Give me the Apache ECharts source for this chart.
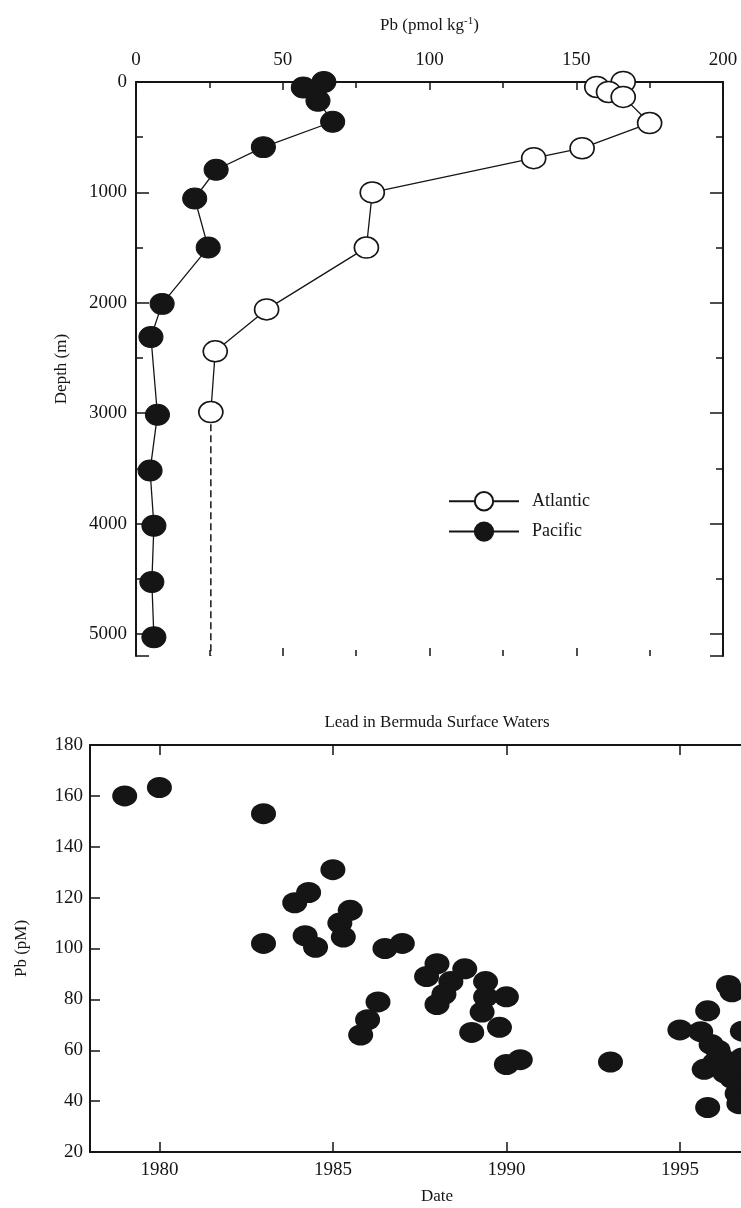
<!DOCTYPE html>
<html>
<head>
<meta charset="utf-8">
<script src="https://cdn.jsdelivr.net/npm/echarts@6/dist/echarts.min.js"></script>
<style>
  html, body { margin: 0; padding: 0; background: #fff; overflow: hidden; }
  #chart { width: 800px; height: 1208px; }
</style>
</head>
<body>
<div id="chart"></div>
<script>
// depth profiles, Pb in pmol/kg against depth in m
const atlanticPb    = [166, 157, 161, 166, 175, 152, 135.5, 80.5, 78.5, 44.5, 27, 25.5];
const atlanticDepth = [0, 45, 90, 135, 372, 600, 690, 1000, 1500, 2060, 2440, 2990];
// dashed extension below the last Atlantic sample
const atlanticDeepPb    = [25.5, 25.5];
const atlanticDeepDepth = [3000, 5200];
const pacificPb    = [64, 57, 62, 67, 43.4, 27.3, 20, 24.6, 8.9, 5.1, 7.3, 4.8, 6.1, 5.4, 6.1];
const pacificDepth = [0, 50, 170, 360, 590, 795, 1055, 1500, 2010, 2310, 3015, 3520, 4020, 4530, 5030];

// Bermuda surface water lead, pM
const bermudaYear = [1979.0, 1980.0, 1983.0, 1985.0, 1983.9, 1984.3, 1983.0, 1984.2, 1984.5,
  1985.5, 1985.2, 1985.3, 1986.5, 1987.0, 1986.3, 1986.0, 1985.8, 1988.0, 1987.7, 1988.4,
  1988.2, 1988.0, 1988.8, 1989.4, 1989.4, 1990.0, 1989.3, 1989.0, 1989.8, 1990.0, 1990.4,
  1993.0, 1995.0, 1995.8, 1996.4, 1996.5, 1995.6, 1995.9, 1996.8, 1995.7, 1996.2, 1996.5,
  1996.5, 1996.65, 1996.7, 1995.8, 1996.0, 1996.3, 1996.9, 1996.9, 1997.0, 1996.8, 1996.1];
const bermudaPb = [160, 163.3, 153, 131, 118, 122, 102, 105, 100.5,
  115, 110, 104.5, 100, 102, 79, 72, 66, 94, 89, 87,
  82, 78, 92, 87, 81, 81, 75, 67, 69, 54.4, 56.3,
  55.4, 68, 75.5, 85.5, 83, 67.3, 62.3, 67.5, 52.5, 57, 54.5,
  49, 43, 39, 37.5, 55, 51, 52, 46, 41, 57, 60];

const dateTicks = [1980, 1985, 1990, 1995];

const ink = '#151515';
const serif = 'Liberation Serif';

function pairs(xs, ys) {
  return xs.map((x, i) => [x, ys[i]]);
}
const plain = (v) => String(v);

// onZero off, otherwise the second axis of a grid jumps to the other axis' zero
const frameLine = { onZero: false, lineStyle: { color: ink, width: 2 } };
const noLine = { show: false, onZero: false };
const tickIn = (len) => ({ inside: true, length: len, lineStyle: { color: ink, width: 1.5 } });
const minorIn = (len) => ({ show: true, splitNumber: 2, length: len, lineStyle: { color: ink, width: 1.5 } });

const chart = echarts.init(document.getElementById('chart'));
chart.setOption({
  animation: false,
  backgroundColor: '#fff',
  textStyle: { fontFamily: serif, color: ink },
  grid: [
    { left: 136, top: 82, width: 587, height: 574 },
    { left: 90, top: 745, width: 694, height: 407 }
  ],
  legend: {
    data: ['Atlantic', 'Pacific'],
    orient: 'vertical',
    left: 443,
    top: 486,
    itemWidth: 70,
    itemHeight: 23,
    itemGap: 10,
    textStyle: { fontFamily: serif, fontSize: 18, color: ink, padding: [0, 0, 0, 8] }
  },
  xAxis: [
    {
      gridIndex: 0, type: 'value', position: 'top',
      min: 0, max: 200, interval: 50,
      axisLine: frameLine,
      axisTick: tickIn(8),
      minorTick: minorIn(6),
      axisLabel: { fontSize: 19, color: ink, margin: 12, formatter: plain },
      splitLine: { show: false },
      name: 'Pb (pmol kg{sup|-1})',
      nameLocation: 'middle',
      nameGap: 46,
      nameTextStyle: {
        fontSize: 17, color: ink,
        rich: { sup: { fontSize: 11, padding: [0, 0, 9, 0] } }
      }
    },
    {
      gridIndex: 0, type: 'value', position: 'bottom',
      min: 0, max: 200, interval: 50,
      axisLine: noLine,
      axisTick: tickIn(8),
      minorTick: minorIn(6),
      axisLabel: { show: false },
      splitLine: { show: false }
    },
    {
      gridIndex: 1, type: 'value', position: 'bottom',
      min: 1978, max: 1998,
      axisLine: frameLine,
      axisTick: Object.assign(tickIn(10), { customValues: dateTicks }),
      axisLabel: { fontSize: 19, color: ink, margin: 9, customValues: dateTicks, formatter: plain },
      splitLine: { show: false },
      name: 'Date',
      nameLocation: 'middle',
      nameGap: 36,
      nameTextStyle: { fontSize: 17, color: ink }
    },
    {
      gridIndex: 1, type: 'value', position: 'top',
      min: 1978, max: 1998,
      axisLine: frameLine,
      axisTick: Object.assign(tickIn(10), { customValues: dateTicks }),
      axisLabel: { show: false },
      splitLine: { show: false },
      name: 'Lead in Bermuda Surface Waters',
      nameLocation: 'middle',
      nameGap: 14,
      nameTextStyle: { fontSize: 17, color: ink, verticalAlign: 'bottom' }
    }
  ],
  yAxis: [
    {
      gridIndex: 0, type: 'value', inverse: true,
      min: 0, max: 5200, interval: 1000,
      axisLine: frameLine,
      axisTick: tickIn(13),
      minorTick: minorIn(7),
      axisLabel: { fontSize: 19, color: ink, margin: 9, showMaxLabel: false, formatter: plain },
      splitLine: { show: false },
      name: 'Depth (m)',
      nameLocation: 'middle',
      nameGap: 66,
      nameTextStyle: { fontSize: 17, color: ink }
    },
    {
      gridIndex: 0, type: 'value', inverse: true, position: 'right',
      min: 0, max: 5200, interval: 1000,
      axisLine: frameLine,
      axisTick: tickIn(13),
      minorTick: minorIn(7),
      axisLabel: { show: false },
      splitLine: { show: false }
    },
    {
      gridIndex: 1, type: 'value',
      min: 20, max: 180, interval: 20,
      axisLine: frameLine,
      axisTick: tickIn(10),
      axisLabel: { fontSize: 19, color: ink, margin: 7, formatter: plain },
      splitLine: { show: false },
      name: 'Pb (pM)',
      nameLocation: 'middle',
      nameGap: 60,
      nameTextStyle: { fontSize: 17, color: ink }
    },
    {
      gridIndex: 1, type: 'value', position: 'right',
      min: 20, max: 180, interval: 20,
      axisLine: frameLine,
      axisTick: tickIn(10),
      axisLabel: { show: false },
      splitLine: { show: false }
    }
  ],
  series: [
    {
      name: 'Atlantic deep',
      type: 'line',
      xAxisIndex: 0, yAxisIndex: 0,
      data: pairs(atlanticDeepPb, atlanticDeepDepth),
      symbol: 'none',
      silent: true,
      lineStyle: { color: ink, width: 1.5, type: [7, 4] },
      z: 1
    },
    {
      name: 'Atlantic',
      type: 'line',
      xAxisIndex: 0, yAxisIndex: 0,
      data: pairs(atlanticPb, atlanticDepth),
      symbol: 'circle',
      symbolSize: [24, 21],
      itemStyle: { color: '#fff', borderColor: ink, borderWidth: 1.6 },
      lineStyle: { color: ink, width: 1.3 },
      z: 3
    },
    {
      name: 'Pacific',
      type: 'line',
      xAxisIndex: 0, yAxisIndex: 0,
      data: pairs(pacificPb, pacificDepth),
      symbol: 'circle',
      symbolSize: [24, 21],
      itemStyle: { color: ink, borderColor: ink, borderWidth: 1 },
      lineStyle: { color: ink, width: 1.3 },
      z: 3
    },
    {
      name: 'Bermuda',
      type: 'scatter',
      xAxisIndex: 2, yAxisIndex: 2,
      data: pairs(bermudaYear, bermudaPb),
      symbol: 'circle',
      symbolSize: [25, 21],
      itemStyle: { color: ink, opacity: 1 },
      clip: false
    }
  ]
});
</script>
</body>
</html>
